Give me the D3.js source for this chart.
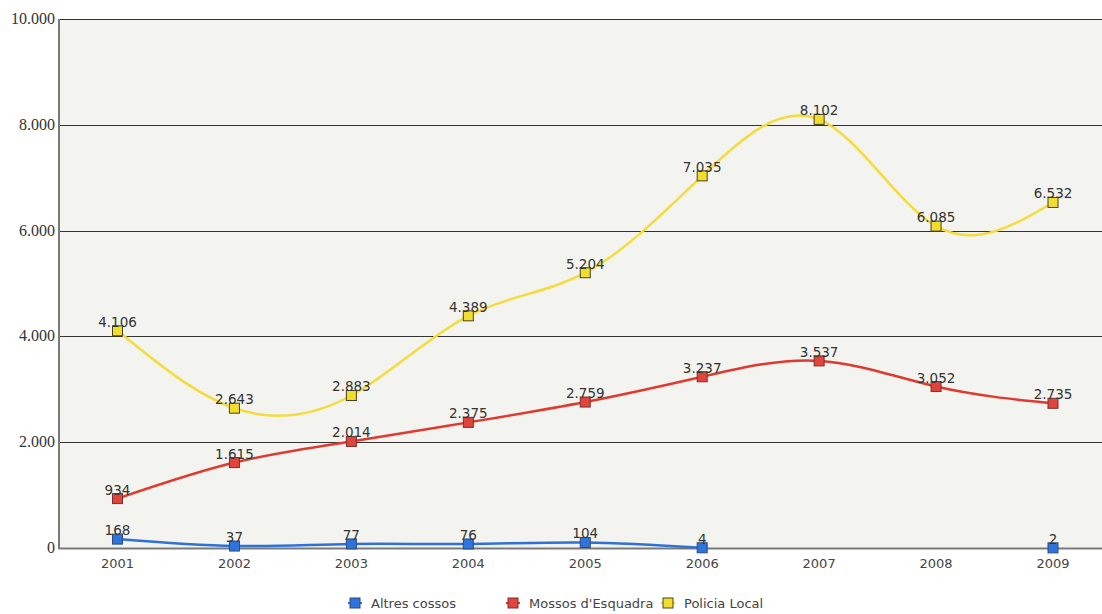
<!DOCTYPE html>
<meta charset="utf-8">
<style>
  body { margin: 0; background: #fff; }
  .ylab { font: 16px "Liberation Serif", serif; fill: #333; }
  .xlab { font: 13px "DejaVu Sans", sans-serif; fill: #444; }
  .val { font: 13.5px "DejaVu Sans", sans-serif; fill: #333; text-anchor: middle; }
  .leg { font: 13px "DejaVu Sans", sans-serif; fill: #444; }
</style>
<script src="https://d3js.org/d3.v7.min.js"></script>
<div id="chart"></div>
<script>
  // data
  var years = ["2001", "2002", "2003", "2004", "2005", "2006", "2007", "2008", "2009"];
  var altres = [168, 37, 77, 76, 104, 4, null, null, 2];
  var mossos = [934, 1615, 2014, 2375, 2759, 3237, 3537, 3052, 2735];
  var policia = [4106, 2643, 2883, 4389, 5204, 7035, 8102, 6085, 6532];
  var yTicks = [0, 2000, 4000, 6000, 8000, 10000];

  var series = [
    { name: "Policia Local", values: policia, line: "#f4dc3c", fill: "#f2dc2c", stroke: "#4a4320" },
    { name: "Mossos d'Esquadra", values: mossos, line: "#df3a30", fill: "#e0443a", stroke: "#7a3030" },
    { name: "Altres cossos", values: altres, line: "#2f72d6", fill: "#2e74dc", stroke: "#2f4a78" }
  ];
  var legendOrder = [series[2], series[1], series[0]];

  var width = 1102, height = 614;
  var plotLeft = 59, plotTop = 19, plotBottom = 548;

  var svg = d3.select("#chart").append("svg")
    .attr("width", width)
    .attr("height", height);

  var x = d3.scalePoint().domain(years).range([117.5, 1053]);
  var y = d3.scaleLinear().domain([0, 10000]).range([plotBottom, plotTop]);
  var fmt = function(v) { return d3.format(",")(v).replace(/,/g, "."); };

  // plot background
  svg.append("rect")
    .attr("x", plotLeft).attr("y", plotTop)
    .attr("width", width - plotLeft).attr("height", plotBottom - plotTop)
    .attr("fill", "#f3f3ef");

  // grid lines
  svg.selectAll(".grid")
    .data(yTicks.filter(function(d) { return d > 0; }))
    .enter().append("line")
      .attr("x1", plotLeft).attr("x2", width)
      .attr("y1", function(d) { return Math.round(y(d)) + 0.5; })
      .attr("y2", function(d) { return Math.round(y(d)) + 0.5; })
      .attr("stroke", "#333")
      .attr("stroke-width", 1);

  // axes lines
  svg.append("line")
    .attr("x1", plotLeft).attr("x2", plotLeft).attr("y1", plotTop).attr("y2", plotBottom + 1)
    .attr("stroke", "#7a7a7a").attr("stroke-width", 2);
  svg.append("line")
    .attr("x1", plotLeft).attr("x2", width).attr("y1", plotBottom + 0.5).attr("y2", plotBottom + 0.5)
    .attr("stroke", "#7a7a7a").attr("stroke-width", 2);

  // y labels
  svg.selectAll(".ylab")
    .data(yTicks)
    .enter().append("text")
      .attr("class", "ylab")
      .attr("x", plotLeft - 4)
      .attr("y", function(d) { return y(d) + 5; })
      .attr("text-anchor", "end")
      .text(fmt);

  // x labels
  svg.selectAll(".xlab")
    .data(years)
    .enter().append("text")
      .attr("class", "xlab")
      .attr("x", function(d) { return x(d); })
      .attr("y", 568)
      .attr("text-anchor", "middle")
      .text(function(d) { return d; });

  var line = d3.line()
    .defined(function(d) { return d.v !== null; })
    .x(function(d) { return x(d.year); })
    .y(function(d) { return y(d.v); })
    .curve(d3.curveNatural);

  series.forEach(function(s) {
    var pts = years.map(function(yr, i) { return { year: yr, v: s.values[i] }; });
    var g = svg.append("g");

    g.append("path")
      .datum(pts)
      .attr("fill", "none")
      .attr("stroke", s.line)
      .attr("stroke-width", 2.5)
      .attr("d", line);

    var valid = pts.filter(function(d) { return d.v !== null; });

    g.selectAll("rect")
      .data(valid)
      .enter().append("rect")
        .attr("x", function(d) { return x(d.year) - 5; })
        .attr("y", function(d) { return y(d.v) - 5; })
        .attr("width", 10).attr("height", 10)
        .attr("fill", s.fill)
        .attr("stroke", s.stroke)
        .attr("stroke-width", 1);

    g.selectAll("text")
      .data(valid)
      .enter().append("text")
        .attr("class", "val")
        .attr("x", function(d) { return x(d.year); })
        .attr("y", function(d) { return y(d.v) - 4; })
        .text(function(d) { return fmt(d.v); });
  });

  // legend
  var legX = [355, 513, 668];
  var leg = svg.selectAll(".legitem")
    .data(legendOrder)
    .enter().append("g")
      .attr("transform", function(d, i) { return "translate(" + legX[i] + ",603)"; });

  leg.append("line")
    .attr("x1", -7).attr("x2", 7).attr("y1", 0).attr("y2", 0)
    .attr("stroke", function(d) { return d.line; })
    .attr("stroke-width", 2);
  leg.append("rect")
    .attr("x", -5).attr("y", -5).attr("width", 10).attr("height", 10)
    .attr("fill", function(d) { return d.fill; })
    .attr("stroke", function(d) { return d.stroke; });
  leg.append("text")
    .attr("class", "leg")
    .attr("x", 16).attr("y", 4.5)
    .text(function(d) { return d.name; });
</script>
